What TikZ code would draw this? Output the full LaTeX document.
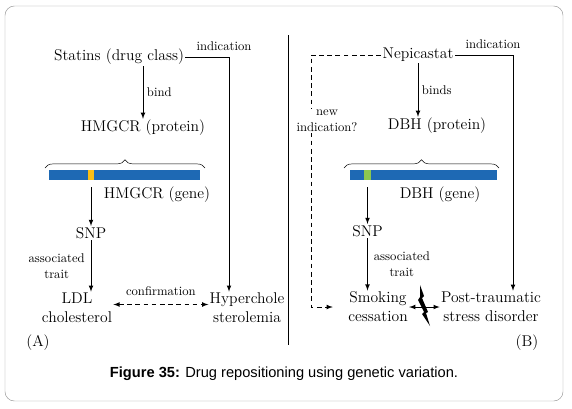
\documentclass[tikz,border=0pt]{standalone}
\usepackage{fontspec}
\newfontfamily\capfont{Liberation Sans}
\usetikzlibrary{arrows,decorations.pathreplacing}
\definecolor{genebar}{RGB}{30,105,180}
\definecolor{snpyellow}{RGB}{250,190,20}
\definecolor{snpgreen}{RGB}{140,200,80}
\definecolor{framegray}{RGB}{150,150,150}
\begin{document}
\begin{tikzpicture}[x=0.03cm,y=-0.03cm,>=latex,
  lbl/.style={font=\fontsize{13.3}{16.2}\selectfont,align=center,inner sep=1pt},
  sm/.style={font=\fontsize{10.8}{13.7}\selectfont,align=center,inner sep=1pt},
  bar/.style={fill=genebar,draw=none,minimum height=10*0.03cm,inner sep=0pt},
  snpmark/.style={draw=none,minimum width=6.5*0.03cm,minimum height=10*0.03cm,inner sep=0pt},
  longdash/.style={dash pattern=on 4pt off 3pt}]
\useasboundingbox (0,0) rectangle (572,408);
%frame
\draw[framegray,rounded corners=8] (5,6) rectangle (563,401);
\draw[thick] (288,35) -- (288,345);
%panel A
\node[lbl] (statins) at (119,57) {Statins (drug class)};
\node[sm] (indA) at (224,46) {indication};
\node[lbl] (protA) at (143,128) {HMGCR (protein)};
\node[bar,minimum width=151*0.03cm] (barA) at (124.5,175) {};
\node[snpmark,fill=snpyellow] (mutA) at (91,175) {};
\node[lbl] (geneA) at (157,195) {HMGCR (gene)};
\node[lbl] (snpA) at (91,233) {SNP};
\node[lbl] (ldl) at (77,308) {LDL\\cholesterol};
\node[lbl] (hyper) at (247,308) {Hyperchole\\sterolemia};
\node[lbl] (labA) at (38,343) {(A)};
\coordinate (cA) at (229,57);
\draw[decorate,decoration={brace,amplitude=7pt}] (45,168) -- (205,168);
\draw[->,thick] (statins.south -| protA.north) -- (protA.north) node[sm,midway,right=2pt] (bindA) {bind};
\draw[->,thick] (statins.east) -- (statins.east -| cA) -- (cA |- hyper.north);
\draw[->,thick,shorten <=6pt] (mutA.south) -- (snpA.north);
\draw[->,thick] (snpA.south) -- (snpA.south |- ldl.north) node[sm,midway,left=4pt] (assocA) {associated\\trait};
\draw[<->,thick,longdash] ([yshift=3pt]ldl.east) -- ([yshift=3pt]hyper.west) node[sm,midway,above=6pt] (confA) {confirmation};
%panel B
\node[lbl] (nepi) at (418,55) {Nepicastat};
\node[sm] (indB) at (493,44) {indication};
\node[lbl] (protB) at (437,126) {DBH (protein)};
\node[bar,minimum width=147*0.03cm] (barB) at (423.5,175) {};
\node[snpmark,fill=snpgreen] (mutB) at (367.5,175) {};
\node[lbl] (geneB) at (440,195) {DBH (gene)};
\node[lbl] (snpB) at (367.5,231) {SNP};
\node[lbl] (smoke) at (378,307) {Smoking\\cessation};
\node[lbl] (ptsd) at (491,307) {Post-traumatic\\stress disorder};
\node[lbl] (labB) at (527,343) {(B)};
\coordinate (cB) at (513,57);
\coordinate (dB) at (311,57);
\draw[decorate,decoration={brace,amplitude=7pt}] (344,168) -- (499,168);
\draw[->,thick] (nepi.south) -- (nepi.south |- protB.north) node[sm,midway,right=2pt] (bindB) {binds};
\draw[->,thick] (nepi.east) -- (nepi.east -| cB) -- (cB |- ptsd.north);
\draw[->,thick,longdash,shorten >=12pt] (nepi.west) -- (nepi.west -| dB) -- (dB |- smoke.west) -- (smoke.west);
\node[sm,fill=white] (newind) at (327,121) {new\\indication?};
\draw[->,thick,shorten <=6pt] (mutB.south) -- (snpB.north);
\draw[->,thick] (snpB.south) -- (snpB.south |- smoke.north) node[sm,midway,right=4pt] (assocB) {associated\\trait};
\draw[<->,thick] (smoke.east) -- (ptsd.west);
%lightning
\fill (420,285) -- (424,296) -- (422,298) -- (428,312) -- (426,313) -- (430,326)
  -- (422,314) -- (424,312) -- (418,300) -- (420,297) -- cycle;
%caption
\node[font=\capfont\fontsize{12.5}{15}\selectfont] (cap) at (284,374) {\textbf{Figure 35:} Drug repositioning using genetic variation.};
\end{tikzpicture}
\end{document}
